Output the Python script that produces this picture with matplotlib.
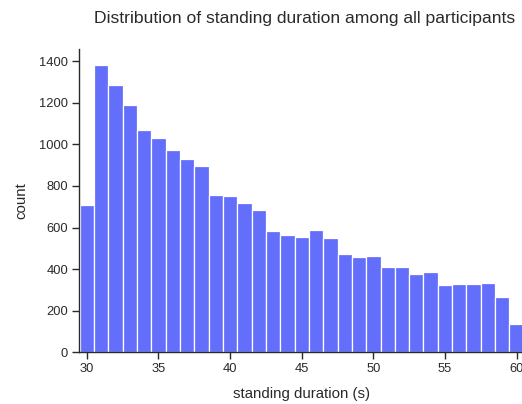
import matplotlib
matplotlib.use("Agg")
import matplotlib.pyplot as plt
import numpy as np

plt.rcParams['font.family'] = ['Liberation Sans', 'DejaVu Sans']

durations = list(range(30, 61))
counts = [708, 1382, 1287, 1191, 1071, 1031, 971, 930, 898, 755,
          753, 717, 684, 583, 564, 555, 587, 548, 473, 458,
          463, 412, 410, 377, 388, 325, 330, 329, 332, 265,
          135]
xticks = [30, 35, 40, 45, 50, 55, 60]
yticks = [0, 200, 400, 600, 800, 1000, 1200, 1400]

TXT = '#2a2a2a'
W, H = 522, 404
fig = plt.figure(figsize=(W / 100, H / 100), dpi=100)
ax = fig.add_axes([79.3 / W, 51.7 / H, 444.5 / W, 303 / H])

ax.bar(durations, counts, width=1.0, color='#636EFA', edgecolor='white', linewidth=0.9, clip_on=True)

ax.set_xlim(29.48, 60.5)
ax.set_ylim(0, 1457)
ax.set_xticks(xticks)
ax.set_yticks(yticks)
ax.tick_params(axis='both', direction='out', length=5, width=1, color=TXT,
               labelcolor=TXT, labelsize=9.3, pad=3)
for s in ['top', 'right']:
    ax.spines[s].set_visible(False)
for s in ['left', 'bottom']:
    ax.spines[s].set_color(TXT)
    ax.spines[s].set_linewidth(1)

ax.set_xlabel('standing duration (s)', fontsize=10.8, color=TXT, labelpad=8)
ax.set_ylabel('count', fontsize=10.8, color=TXT, labelpad=8)

fig.text(305 / W, 1 - 18 / H, 'Distribution of standing duration among all participants',
         ha='center', va='center', fontsize=12.6, color=TXT)

fig.savefig('out.png', dpi=100)
